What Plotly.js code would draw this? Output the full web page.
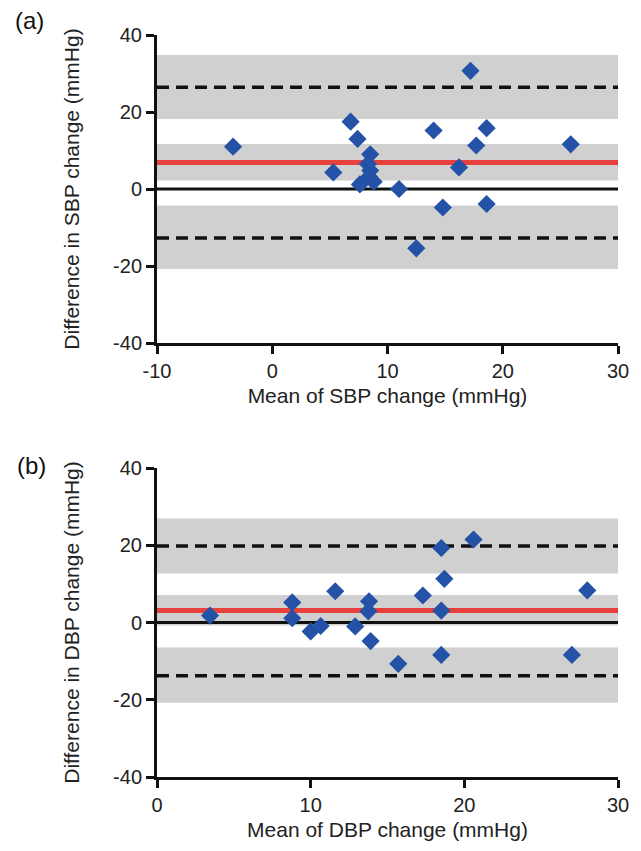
<!DOCTYPE html>
<html>
<head>
<meta charset="utf-8">
<script src="https://cdn.plot.ly/plotly-3.0.1.min.js"></script>
<style>html,body{margin:0;padding:0;background:#fff;}#chart{width:641px;height:851px;}</style>
</head>
<body>
<div id="chart"></div>
<script>
// Panel (a): SBP
const sbpMean = [-3.4, 6.8, 7.4, 5.3, 8.5, 8.3, 8.5, 8.4, 7.6, 8.8, 11.0, 14.0, 14.8, 12.5, 17.2, 16.2, 17.7, 18.6, 18.6, 25.9];
const sbpDiff = [11.0, 17.5, 13.0, 4.3, 9.0, 6.5, 4.8, 3.2, 1.2, 1.9, 0.0, 15.2, -4.8, -15.4, 30.7, 5.6, 11.3, 15.8, -3.9, 11.6];
const sbpBias = 6.9;
const sbpLoA = [26.4, -12.7];
const sbpBands = [[18.2, 34.8], [2.2, 11.7], [-20.8, -4.3]];

// Panel (b): DBP
const dbpMean = [3.45, 8.8, 8.8, 10.0, 10.65, 11.6, 12.9, 13.8, 13.75, 13.9, 15.7, 17.3, 18.5, 18.7, 18.5, 18.5, 20.6, 27.0, 28.0];
const dbpDiff = [1.8, 5.2, 1.1, -2.3, -0.9, 8.1, -1.0, 5.5, 2.9, -4.8, -10.7, 7.0, 19.3, 11.3, 3.1, -8.4, 21.5, -8.4, 8.3];
const dbpBias = 3.1;
const dbpLoA = [19.8, -13.8];
const dbpBands = [[12.7, 26.9], [-0.8, 7.1], [-20.8, -6.5]];

// Tick labels
const yTickVals = [-40, -20, 0, 20, 40];
const yTickText = ['-40', '-20', '0', '20', '40'];
const xTickValsA = [-10, 0, 10, 20, 30];
const xTickTextA = ['-10', '0', '10', '20', '30'];
const xTickValsB = [0, 10, 20, 30];
const xTickTextB = ['0', '10', '20', '30'];

const xTitles = ['Mean of SBP change (mmHg)', 'Mean of DBP change (mmHg)'];
const yTitles = ['Difference in SBP change (mmHg)', 'Difference in DBP change (mmHg)'];
const panelLabels = ['(a)', '(b)'];

const markerColor = '#2352a6';
const fam = 'Liberation Sans, Arial, sans-serif';
const titleFont = {family: fam, size: 21, color: '#222'};

function scatter(x, y, xa, ya) {
  return {x: x, y: y, xaxis: xa, yaxis: ya, type: 'scatter', mode: 'markers',
    marker: {symbol: 'diamond', size: 14, color: markerColor, line: {width: 0}},
    showlegend: false, hoverinfo: 'x+y'};
}

function panelShapes(xr, yr, bands, bias, loa) {
  const s = [];
  bands.forEach(b => s.push({type: 'rect', xref: xr + ' domain', yref: yr, x0: 0, x1: 1, y0: b[0], y1: b[1],
    fillcolor: '#d0d0d0', line: {width: 0}, layer: 'below'}));
  s.push({type: 'line', xref: xr + ' domain', yref: yr, x0: 0, x1: 1, y0: 0, y1: 0,
    line: {color: '#111', width: 3}, layer: 'below'});
  s.push({type: 'line', xref: xr + ' domain', yref: yr, x0: 0, x1: 1, y0: bias, y1: bias,
    line: {color: '#e8403c', width: 5}, layer: 'below'});
  loa.forEach(v => s.push({type: 'line', xref: xr + ' domain', yref: yr, x0: 0, x1: 1, y0: v, y1: v,
    line: {color: '#111', width: 3.5, dash: '12px,7px'}, layer: 'below'}));
  return s;
}

const axisCommon = {
  showgrid: false, zeroline: false, showline: true, linecolor: '#111', linewidth: 3,
  ticks: 'outside', ticklen: 8, tickwidth: 3, tickcolor: '#111',
  tickfont: {family: fam, size: 20, color: '#222'}
};

const layout = {
  width: 641, height: 851,
  margin: {l: 157, r: 23, t: 35, b: 74},
  paper_bgcolor: '#fff', plot_bgcolor: '#fff',
  font: {family: fam, size: 20, color: '#222'},
  showlegend: false,
  xaxis: Object.assign({}, axisCommon, {domain: [0, 1], anchor: 'y', range: [-10, 30],
    tickvals: xTickValsA, ticktext: xTickTextA,
    title: {text: xTitles[0], font: titleFont, standoff: 8}}),
  yaxis: Object.assign({}, axisCommon, {domain: [0.5849, 1], anchor: 'x', range: [-40, 40],
    tickvals: yTickVals, ticktext: yTickText,
    title: {text: yTitles[0], font: titleFont, standoff: 28}}),
  xaxis2: Object.assign({}, axisCommon, {domain: [0, 1], anchor: 'y2', range: [0, 30],
    tickvals: xTickValsB, ticktext: xTickTextB,
    title: {text: xTitles[1], font: titleFont, standoff: 8}}),
  yaxis2: Object.assign({}, axisCommon, {domain: [0, 0.4164], anchor: 'x2', range: [-40, 40],
    tickvals: yTickVals, ticktext: yTickText,
    title: {text: yTitles[1], font: titleFont, standoff: 28}}),
  shapes: panelShapes('x', 'y', sbpBands, sbpBias, sbpLoA).concat(panelShapes('x2', 'y2', dbpBands, dbpBias, dbpLoA)),
  annotations: [
    {text: panelLabels[0], xref: 'paper', yref: 'paper', x: -0.312, y: 1.0189, xanchor: 'left', yanchor: 'middle',
      showarrow: false, font: {family: fam, size: 24, color: '#111'}},
    {text: panelLabels[1], xref: 'paper', yref: 'paper', x: -0.308, y: 0.4204, xanchor: 'left', yanchor: 'middle',
      showarrow: false, font: {family: fam, size: 24, color: '#111'}}
  ]
};

Plotly.newPlot('chart', [scatter(sbpMean, sbpDiff, 'x', 'y'), scatter(dbpMean, dbpDiff, 'x2', 'y2')], layout,
  {displayModeBar: false, staticPlot: true});
</script>
</body>
</html>
